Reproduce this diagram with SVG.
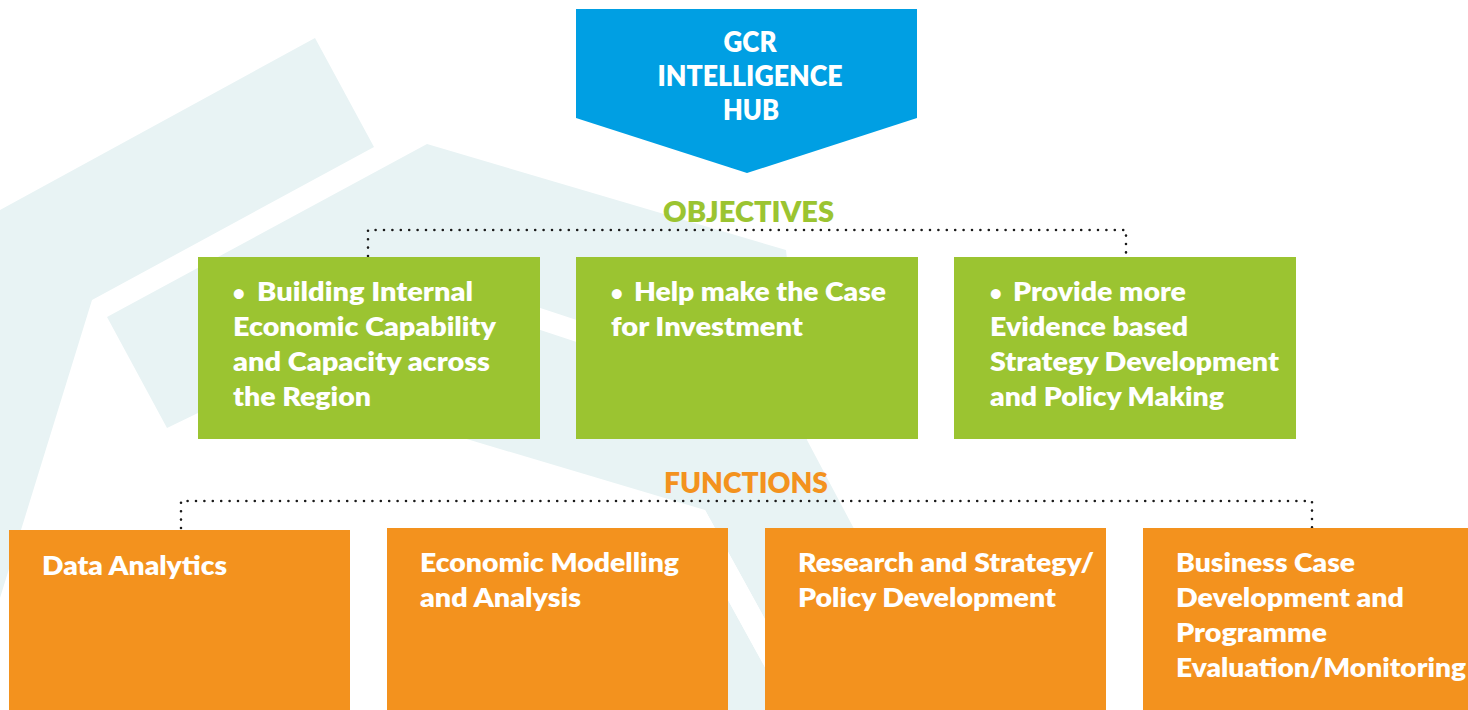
<svg xmlns="http://www.w3.org/2000/svg" width="1468" height="710" viewBox="0 0 1468 710">
  <style>
    .bg { fill: #E8F3F4; }
    .gap { fill: #FFFFFF; }
    .hub { fill: #009FE3; }
    .obj { fill: #9BC431; }
    .fn { fill: #F3921E; }
    text { font-family: Lato, "Open Sans", "DejaVu Sans", sans-serif; font-weight: 800; }
    .w { fill: #FFFFFF; }
    .ht { font-size: 28px; text-anchor: middle; }
    .ot { font-size: 25.5px; }
    .ft { font-size: 27px; }
    .bullet { font-size: 20px; }
    .head { font-size: 29px; text-anchor: middle; }
    .green { fill: #9BC431; }
    .orange { fill: #F3921E; }
    .dots { fill: none; stroke: #1A1A1A; stroke-width: 2.6; stroke-linecap: round; stroke-dasharray: 0 8.4; }
  </style>

  <rect width="1468" height="710" fill="#FFFFFF"/>

  <!-- pale chevron watermark behind the chart -->
  <g id="backdrop">
    <polygon class="bg" points="0,210 315,38 374,147 92,300 0,598"/>
    <polygon class="bg" points="107,317 427,144 786,250 807,440 950,710 815,710 705,510 470,440 400,419 198,413 167,428"/>
    <polygon class="bg" points="706,560 788.5,710 700,710 700,560"/>
    <polygon class="gap" points="510,298 610,331 610,353 510,320"/>
    <polygon class="gap" points="705,510 815,710 788.5,710 678.5,510"/>
  </g>

  <!-- dotted bracket connectors -->
  <g id="connectors">
    <path class="dots" d="M368,256 V230 H1126 V256"/>
    <path class="dots" d="M181,528 V501 H1312 V528"/>
  </g>

  <g id="hub">
    <polygon class="hub" points="576,9 917,9 917,118 747,173 576,118"/>
    <text class="w ht" x="750" y="52" textLength="53" lengthAdjust="spacingAndGlyphs">GCR</text>
    <text class="w ht" x="750" y="86" textLength="185" lengthAdjust="spacingAndGlyphs">INTELLIGENCE</text>
    <text class="w ht" x="751" y="120" textLength="56" lengthAdjust="spacingAndGlyphs">HUB</text>
  </g>

  <g id="objectives-label">
    <text class="head green" x="748.5" y="222" textLength="171" lengthAdjust="spacingAndGlyphs">OBJECTIVES</text>
  </g>

  <g id="objective-1">
    <rect class="obj" x="198" y="257" width="342" height="182"/>
    <text class="w ot"><tspan class="bullet" x="233" y="300">•</tspan><tspan x="257" y="301" textLength="216" lengthAdjust="spacingAndGlyphs">Building Internal</tspan></text>
    <text class="w ot" x="233" y="336" textLength="263" lengthAdjust="spacingAndGlyphs">Economic Capability</text>
    <text class="w ot" x="233" y="371" textLength="257" lengthAdjust="spacingAndGlyphs">and Capacity across</text>
    <text class="w ot" x="233" y="406" textLength="138" lengthAdjust="spacingAndGlyphs">the Region</text>
  </g>

  <g id="objective-2">
    <rect class="obj" x="576" y="257" width="342" height="182"/>
    <text class="w ot"><tspan class="bullet" x="611" y="300">•</tspan><tspan x="634" y="301" textLength="252" lengthAdjust="spacingAndGlyphs">Help make the Case</tspan></text>
    <text class="w ot" x="611" y="336" textLength="192" lengthAdjust="spacingAndGlyphs">for Investment</text>
  </g>

  <g id="objective-3">
    <rect class="obj" x="954" y="257" width="342" height="182"/>
    <text class="w ot"><tspan class="bullet" x="990" y="300">•</tspan><tspan x="1013" y="301" textLength="173" lengthAdjust="spacingAndGlyphs">Provide more</tspan></text>
    <text class="w ot" x="990" y="336" textLength="198" lengthAdjust="spacingAndGlyphs">Evidence based</text>
    <text class="w ot" x="990" y="371" textLength="289" lengthAdjust="spacingAndGlyphs">Strategy Development</text>
    <text class="w ot" x="990" y="406" textLength="234" lengthAdjust="spacingAndGlyphs">and Policy Making</text>
  </g>

  <g id="functions-label">
    <text class="head orange" x="746" y="493" textLength="164" lengthAdjust="spacingAndGlyphs">FUNCTIONS</text>
  </g>

  <g id="function-1">
    <rect class="fn" x="9" y="530" width="341" height="180"/>
    <text class="w ft" x="42" y="575" textLength="185" lengthAdjust="spacingAndGlyphs">Data Analytics</text>
  </g>

  <g id="function-2">
    <rect class="fn" x="387" y="528" width="341" height="182"/>
    <text class="w ft" x="420" y="572" textLength="259" lengthAdjust="spacingAndGlyphs">Economic Modelling</text>
    <text class="w ft" x="420" y="607" textLength="161" lengthAdjust="spacingAndGlyphs">and Analysis</text>
  </g>

  <g id="function-3">
    <rect class="fn" x="765" y="528" width="341" height="182"/>
    <text class="w ft" x="798" y="572" textLength="296" lengthAdjust="spacingAndGlyphs">Research and Strategy/</text>
    <text class="w ft" x="798" y="607" textLength="258" lengthAdjust="spacingAndGlyphs">Policy Development</text>
  </g>

  <g id="function-4">
    <rect class="fn" x="1143" y="528" width="325" height="182"/>
    <text class="w ft" x="1176" y="572" textLength="179" lengthAdjust="spacingAndGlyphs">Business Case</text>
    <text class="w ft" x="1176" y="607" textLength="228" lengthAdjust="spacingAndGlyphs">Development and</text>
    <text class="w ft" x="1176" y="642" textLength="151" lengthAdjust="spacingAndGlyphs">Programme</text>
    <text class="w ft" x="1176" y="677" textLength="290" lengthAdjust="spacingAndGlyphs">Evaluation/Monitoring</text>
  </g>
</svg>
